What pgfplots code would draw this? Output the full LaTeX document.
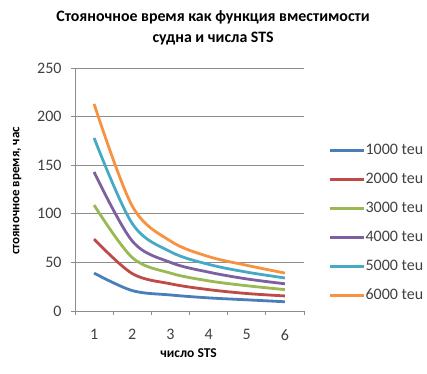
\documentclass[border=0pt]{standalone}
\usepackage{pgfplots}
\pgfplotsset{compat=1.18}
\usepackage{fontspec}
\setmainfont{Carlito}
\definecolor{s1}{HTML}{4A7EBB}
\definecolor{s2}{HTML}{BE4B48}
\definecolor{s3}{HTML}{98B954}
\definecolor{s4}{HTML}{7D60A0}
\definecolor{s5}{HTML}{46AAC5}
\definecolor{s6}{HTML}{F69240}
\definecolor{axgray}{HTML}{8C8C8C}
\definecolor{tickgray}{HTML}{404040}
\begin{document}
\begin{tikzpicture}
\begin{axis}[
  at={(0,0)}, anchor=south west,
  scale only axis, width=229bp, height=243bp,
  xmin=0.5, xmax=6.5, ymin=0, ymax=250,
  xtick={1,2,3,4,5,6},
  minor xtick={0.5,1.5,2.5,3.5,4.5,5.5,6.5},
  ytick={0,50,100,150,200,250},
  major x tick style={draw=none},
  minor x tick style={draw=axgray, line width=0.8pt},
  y tick style={draw=axgray, line width=0.8pt},
  tick align=outside, major tick length=4bp, minor tick length=4bp,
  axis x line*=bottom, axis y line*=left,
  axis line style={draw=axgray, line width=0.8pt, -},
  ymajorgrids, grid style={draw=axgray, line width=0.8pt},
  tick label style={font=\fontsize{16bp}{18bp}\selectfont, text=tickgray},
  /pgf/number format/assume math mode=true,
  xticklabel style={yshift=-11bp},
  yticklabel style={xshift=-6bp},
  title={Стояночное время как функция вместимости\\судна и числа STS},
  title style={at={(axis description cs:0.603,1.14)}, anchor=center, align=center,
    font=\bfseries\fontsize{15.9bp}{21bp}\selectfont},
  xlabel={число STS},
  xlabel style={at={(axis description cs:0.496,-0.173)}, anchor=center,
    font=\bfseries\fontsize{13.5bp}{15bp}\selectfont},
  ylabel={стояночное время, час},
  ylabel style={at={(axis description cs:-0.253,0.494)}, anchor=center, rotate=0,
    font=\bfseries\fontsize{13bp}{15bp}\selectfont},
  legend style={draw=none, fill=none, at={(axis description cs:1.105,0.362)}, anchor=west,
    inner sep=0pt, row sep=14bp,
    nodes={inner sep=0.5bp, text height=11bp, text depth=3bp, text=tickgray,
      font=\fontsize{16bp}{18bp}\selectfont}},
  legend cell align=left,
  legend image code/.code={\draw[#1, line width=2.8bp] (0bp,0bp) -- (34bp,0bp);},
  every axis plot/.append style={line width=2.8bp, smooth, tension=0.55, no markers},
]
\addplot[s1] coordinates {(1,39) (2,21) (3,16.5) (4,13.5) (5,11.5) (6,9.5)};
\addlegendentry{1000 teu}
\addplot[s2] coordinates {(1,74) (2,38.5) (3,28) (4,22) (5,18) (6,15.5)};
\addlegendentry{2000 teu}
\addplot[s3] coordinates {(1,109) (2,55) (3,39) (4,31) (5,26) (6,22)};
\addlegendentry{3000 teu}
\addplot[s4] coordinates {(1,143) (2,72) (3,50) (4,40) (5,33) (6,28)};
\addlegendentry{4000 teu}
\addplot[s5] coordinates {(1,178) (2,90) (3,61) (4,48) (5,40) (6,34)};
\addlegendentry{5000 teu}
\addplot[s6] coordinates {(1,213) (2,108) (3,72) (4,56) (5,47) (6,39)};
\addlegendentry{6000 teu}
\end{axis}
\path[use as bounding box] (-75bp,-63bp) rectangle (352bp,311bp);
\end{tikzpicture}
\end{document}
